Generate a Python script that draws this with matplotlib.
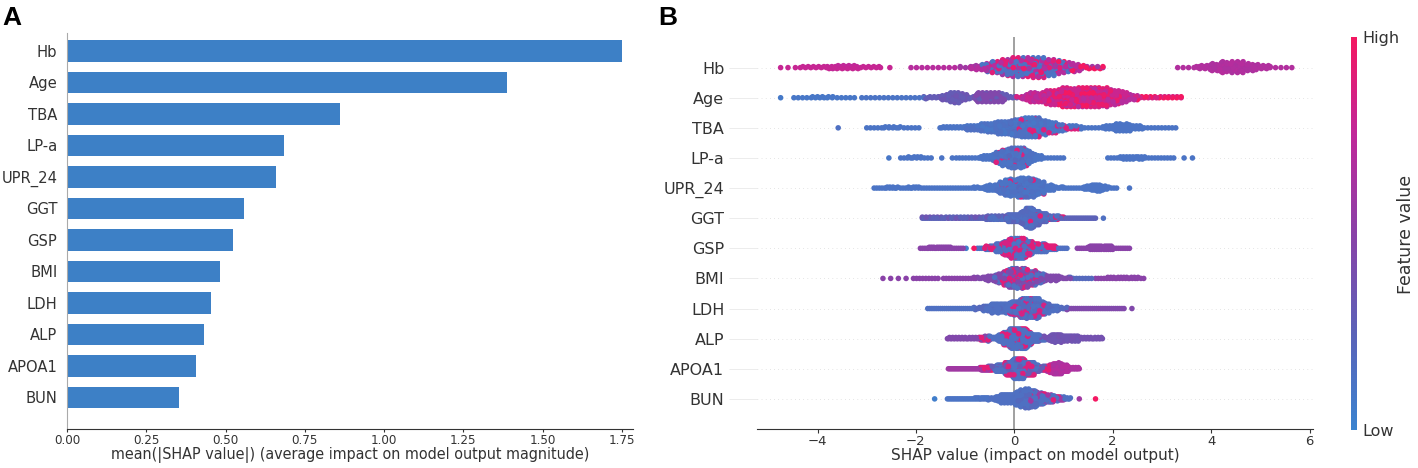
import numpy as np
import matplotlib
matplotlib.use("Agg")
import matplotlib.pyplot as plt
from matplotlib.colors import LinearSegmentedColormap

# feature order, top to bottom
features = ["Hb", "Age", "TBA", "LP-a", "UPR_24", "GGT",
            "GSP", "BMI", "LDH", "ALP", "APOA1", "BUN"]

# panel A: mean(|SHAP value|)
mean_abs_shap = [1.75, 1.387, 0.860, 0.684, 0.659, 0.558,
                 0.522, 0.483, 0.453, 0.431, 0.408, 0.353]

# panel B: clusters of points read off the beeswarm
# (shap from, shap to, points per swarm bin, feature value 0=low .. 1=high)
hb_segments = [
    (-4.75, -4.45, 1, 0.78), (-4.35, -2.75, 2, 0.78), (-3.8, -3.2, 2, 0.75),
    (-2.72, -2.53, 1, 0.78), (-2.10, -1.10, 1, 0.7),
    (-1.10, 1.80, 1, 0.6), (-0.90, 1.35, 4, 0.7), (-0.65, 1.15, 4, 0.12),
    (-0.50, 0.95, 4, 0.9), (-0.30, 0.80, 4, 0.15), (-0.10, 0.60, 4, 0.95),
    (0.90, 1.80, 2, 1.0),
    (3.32, 5.64, 1, 0.68), (3.70, 5.20, 3, 0.68), (3.95, 4.90, 4, 0.66),
    (4.15, 4.65, 4, 0.7),
]
age_segments = [
    (-4.75, -4.75, 1, 0.08), (-4.48, -3.25, 1, 0.1), (-4.10, -3.70, 1, 0.1),
    (-3.10, -1.84, 1, 0.12), (-1.84, 0.05, 2, 0.3), (-1.50, -0.95, 4, 0.35),
    (-1.35, -1.10, 6, 0.3), (-0.80, -0.20, 8, 0.45),
    (0.05, 3.39, 1, 0.85), (0.15, 2.50, 4, 0.7), (0.25, 2.30, 5, 0.8),
    (0.60, 2.15, 5, 0.95), (0.90, 1.90, 5, 1.0), (2.50, 3.39, 1, 1.0),
]
tba_segments = [
    (-3.58, -3.58, 1, 0.15), (-3.00, -1.94, 1, 0.12), (-2.65, -2.35, 1, 0.12),
    (-1.51, 1.36, 2, 0.12), (-1.00, 1.00, 3, 0.15), (-0.70, 0.85, 4, 0.1),
    (-0.40, 0.65, 4, 0.15), (-0.10, 0.50, 3, 0.2), (0.00, 1.30, 2, 0.88),
    (0.10, 0.50, 2, 0.92),
    (1.36, 3.28, 1, 0.12), (1.80, 2.60, 3, 0.12), (2.00, 2.35, 4, 0.12),
]
lpa_segments = [
    (-2.55, -2.55, 1, 0.1), (-2.31, -1.76, 1, 0.12), (-2.15, -1.90, 1, 0.12),
    (-1.69, -1.26, 0.5, 0.12),
    (-1.18, 1.00, 1, 0.12), (-0.70, 0.55, 3, 0.12), (-0.45, 0.40, 4, 0.15),
    (-0.30, 0.30, 5, 0.12), (-0.15, 0.20, 4, 0.2), (-0.40, 0.25, 2, 0.88),
    (1.90, 3.24, 1, 0.12), (2.15, 2.65, 2, 0.12),
    (3.45, 3.45, 1, 0.12), (3.62, 3.62, 1, 0.12),
]
upr_segments = [
    (-2.85, -0.82, 1, 0.12), (-2.60, -2.40, 1, 0.12), (-2.15, -1.95, 1, 0.12),
    (-0.82, 0.99, 1.5, 0.12), (-0.60, 0.80, 4, 0.12), (-0.35, 0.60, 5, 0.15),
    (-0.20, 0.45, 5, 0.12), (0.05, 0.35, 3, 0.2), (-0.30, 0.60, 1.5, 0.88),
    (0.99, 2.08, 1, 0.12), (1.40, 1.90, 3, 0.12), (1.55, 1.75, 3, 0.12),
    (2.34, 2.34, 1, 0.12),
]
ggt_segments = [
    (-1.87, 1.65, 1, 0.25), (-1.87, -0.10, 0.5, 0.35), (-0.60, 0.90, 2, 0.15),
    (-0.15, 0.65, 4, 0.18), (0.12, 0.50, 5, 0.2), (0.20, 0.38, 6, 0.15),
    (0.25, 1.00, 1, 0.9), (1.81, 1.81, 1, 0.15),
]
gsp_segments = [
    (-1.91, -1.04, 1, 0.5), (-1.75, -1.30, 1, 0.5),
    (-0.98, -0.98, 1, 0.05), (-0.82, -0.82, 1, 1.0),
    (-0.75, 1.07, 1, 0.15), (-0.60, 0.85, 3, 0.9), (-0.40, 0.65, 4, 0.15),
    (-0.25, 0.35, 5, 0.85), (-0.12, 0.22, 6, 0.12),
    (1.28, 2.34, 1, 0.5), (1.50, 2.00, 3, 0.5),
]
bmi_segments = [
    (-2.67, -2.20, 0.5, 0.5), (-2.05, -1.55, 1, 0.5), (-1.44, -0.82, 1, 0.5),
    (-0.82, 1.14, 1.5, 0.45), (-0.60, 0.90, 3, 0.45), (-0.40, 0.60, 4, 0.15),
    (-0.25, 0.45, 5, 0.9), (-0.15, 0.25, 5, 0.4),
    (1.14, 1.57, 1, 0.2), (1.65, 2.63, 1, 0.5), (1.90, 2.50, 1, 0.5),
]
ldh_segments = [
    (-1.76, -0.82, 1, 0.15), (-0.82, 1.07, 1.5, 0.2), (-0.65, 0.90, 3, 0.15),
    (-0.50, 0.70, 4, 0.15), (-0.10, 0.60, 4, 0.85), (0.10, 0.50, 6, 0.2),
    (1.07, 2.23, 1, 0.45), (2.39, 2.39, 1, 0.45),
]
alp_segments = [
    (-1.36, -0.53, 1.5, 0.45), (-0.70, -0.50, 2, 0.9),
    (-0.53, 0.63, 2, 0.15), (-0.35, 0.50, 4, 0.15), (-0.25, 0.35, 5, 0.9),
    (-0.12, 0.25, 6, 0.15),
    (0.50, 1.79, 1.5, 0.38), (0.70, 1.30, 3, 0.35), (0.75, 0.95, 2, 0.35),
]
apoa1_segments = [
    (-1.34, -0.53, 1, 0.6), (-0.70, -0.45, 2, 0.92),
    (-0.53, 0.65, 2, 0.3), (-0.40, 0.50, 4, 0.15), (-0.20, 0.40, 5, 0.88),
    (-0.05, 0.20, 6, 0.15),
    (0.65, 1.32, 1.5, 0.65), (0.70, 1.10, 4, 0.7), (0.78, 0.95, 4, 0.65),
    (0.55, 0.75, 2, 0.92),
]
bun_segments = [
    (-1.62, -1.62, 1, 0.05), (-1.36, -0.53, 1, 0.12), (-0.80, -0.53, 1, 0.15),
    (-0.53, 1.14, 1.5, 0.15), (-0.40, 0.80, 3, 0.15), (-0.30, 0.60, 4, 0.15),
    (0.00, 0.45, 5, 0.2), (0.10, 0.30, 4, 0.15), (0.20, 1.00, 2, 0.6),
    (0.30, 0.90, 1, 0.9), (1.32, 1.32, 1, 0.6), (1.65, 1.65, 1, 1.0),
]
swarm_segments = [hb_segments, age_segments, tba_segments, lpa_segments,
                  upr_segments, ggt_segments, gsp_segments, bmi_segments,
                  ldh_segments, alp_segments, apoa1_segments, bun_segments]

bar_color = "#3d80c6"
axis_color = "#333333"
cmap = LinearSegmentedColormap.from_list(
    "red_blue", ["#3b84d0", "#5c62b8", "#8a42a8", "#c0289a", "#f41862"])

NBINS = 100


def segment_points(segs):
    lo = min(s[0] for s in segs)
    hi = max(s[1] for s in segs)
    bin_w = (hi - lo) / NBINS
    xs, cs = [], []
    for a, b, per_bin, c in segs:
        k = max(1, int(round(per_bin * (b - a) / bin_w))) if b > a else int(per_bin)
        xs.append(np.linspace(a, b, k))
        cs.append(np.full(k, c))
    return np.concatenate(xs), np.concatenate(cs)


def swarm_offsets(xs, row_height=0.4):
    # same stacking as shap's summary dot plot, ordered by x instead of jitter
    quant = np.round(NBINS * (xs - xs.min()) / (xs.max() - xs.min() + 1e-8))
    ys = np.zeros(len(xs))
    layer, last_bin = 0, -1
    for ind in np.argsort(xs, kind="stable"):
        if quant[ind] != last_bin:
            layer = 0
        ys[ind] = np.ceil(layer / 2) * ((layer % 2) * 2 - 1)
        layer += 1
        last_bin = quant[ind]
    ys *= 0.9 * (row_height / np.max(ys + 1))
    return ys


fig = plt.figure(figsize=(14.18, 4.68), dpi=100)

# ---- panel A
ax1 = fig.add_axes([67 / 1418, 39 / 468, 566 / 1418, 396 / 468])
n = len(features)
ypos = np.arange(n)[::-1]
ax1.barh(ypos, mean_abs_shap, 0.68, color=bar_color, align="center")
ax1.set_ylim(-1, n - 1 + 0.57)
ax1.set_xlim(0, 1.785)
ax1.set_yticks(ypos)
ax1.set_yticklabels(features, fontsize=11.8, fontstretch="condensed")
ax1.set_xticks([0, 0.25, 0.5, 0.75, 1.0, 1.25, 1.5, 1.75])
ax1.set_xticklabels(["0.00", "0.25", "0.50", "0.75", "1.00", "1.25", "1.50", "1.75"],
                    fontsize=9.5, fontstretch="condensed")
ax1.tick_params("y", length=0, pad=7, labelcolor=axis_color)
ax1.tick_params("x", color=axis_color, labelcolor=axis_color, length=2.5, pad=1)
ax1.set_xlabel("mean(|SHAP value|) (average impact on model output magnitude)",
               fontsize=11.5, color=axis_color, fontstretch="condensed", labelpad=0.2)
for side in ["top", "right"]:
    ax1.spines[side].set_visible(False)
ax1.spines["left"].set_color("#aaaaaa")
ax1.spines["bottom"].set_color(axis_color)

# ---- panel B
ax2 = fig.add_axes([757 / 1418, 39 / 468, 556 / 1418, 391.5 / 468])
ax2.axvline(0, color="#999999", lw=1.3, zorder=-1)
for i, segs in enumerate(swarm_segments):
    pos = n - 1 - i
    xs, cs = segment_points(segs)
    ys = swarm_offsets(xs)
    # interleave the drawing order so no colour sits on top of the others
    order = np.argsort((np.arange(len(xs)) * 0.6180339887) % 1.0)
    ax2.axhline(pos, color="#cccccc", lw=0.5, dashes=(1, 5), zorder=-1)
    ax2.scatter(xs[order], pos + ys[order], c=cs[order], cmap=cmap, vmin=0, vmax=1,
                s=16, linewidth=0, zorder=3)
ax2.set_ylim(-1, n)
ax2.set_xlim(-5.23, 6.07)
ax2.set_yticks(np.arange(n))
ax2.set_yticklabels(features[::-1], fontsize=11.5)
ax2.tick_params("y", length=20, width=0.5, color="#e4e4e4", labelcolor=axis_color)
ax2.tick_params("x", color=axis_color, labelcolor=axis_color, labelsize=9.5,
                length=3, pad=1)
ax2.set_xticks([-4, -2, 0, 2, 4, 6])
ax2.set_xlabel("SHAP value (impact on model output)", fontsize=11,
               color=axis_color, labelpad=0.2)
for side in ["top", "right", "left"]:
    ax2.spines[side].set_visible(False)
ax2.spines["bottom"].set_color(axis_color)

# colour bar
cax = fig.add_axes([1351 / 1418, 38 / 468, 6 / 1418, 393 / 468])
grad = np.linspace(0, 1, 256).reshape(-1, 1)
cax.imshow(grad, aspect="auto", cmap=cmap, origin="lower", extent=[0, 1, 0, 1])
cax.set_xticks([])
cax.set_yticks([0, 1])
cax.set_yticklabels(["Low", "High"], fontsize=11.5, color=axis_color)
cax.yaxis.tick_right()
cax.tick_params(length=0, pad=4)
for s in cax.spines.values():
    s.set_visible(False)
fig.text(1406 / 1418, 0.5, "Feature value", rotation=90, fontsize=12.5,
         color=axis_color, va="center", ha="center")

# panel letters
letter_font = ["Liberation Sans Narrow", "Liberation Sans", "DejaVu Sans"]
fig.text(0.0015, 443 / 468, "A", fontsize=19, fontweight="bold", family=letter_font)
fig.text(658 / 1418, 443 / 468, "B", fontsize=19, fontweight="bold", family=letter_font)

fig.savefig("out.png", dpi=100)
